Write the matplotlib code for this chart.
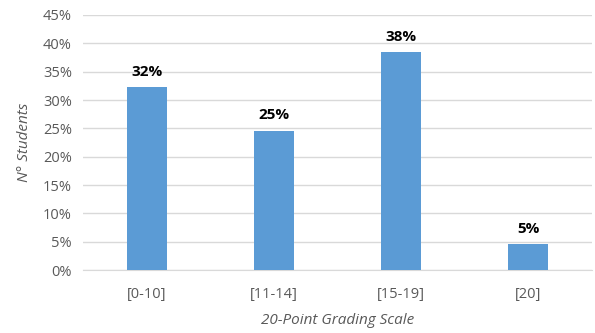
import matplotlib
matplotlib.use("Agg")
import matplotlib.pyplot as plt
from matplotlib.ticker import FuncFormatter

categories = ["[0-10]", "[11-14]", "[15-19]", "[20]"]
values = [32.3, 24.6, 38.4, 4.6]
yticks = [0, 5, 10, 15, 20, 25, 30, 35, 40, 45]

plt.rcParams['font.family'] = ['Open Sans', 'DejaVu Sans']

fig = plt.figure(figsize=(5.95, 3.33), dpi=100)
ax = fig.add_axes([0.1395, 0.189, 0.8555, 0.766])

x = range(len(categories))
bars = ax.bar(x, values, width=0.314, color="#5B9BD5", zorder=3)
for xi, v in zip(x, values):
    ax.annotate(f"{round(v):.0f}%", (xi, v), xytext=(0, 6), textcoords="offset points",
                ha="center", va="bottom", fontsize=11, fontweight="bold", color="black")

ax.set_xlim(-0.5, len(categories) - 0.5)
ax.set_ylim(0, 45)
ax.set_yticks(yticks)
ax.yaxis.set_major_formatter(FuncFormatter(lambda v, p: f"{v:.0f}%"))
ax.set_xticks(list(x))
ax.set_xticklabels(categories)
ax.grid(axis="y", color="#D9D9D9", linewidth=1, zorder=0)
for s in ["top", "right", "left"]:
    ax.spines[s].set_visible(False)
ax.spines["bottom"].set_color("#D9D9D9")
ax.tick_params(axis="both", length=0, labelsize=10.5, colors="#595959")
ax.tick_params(axis="x", pad=12)
ax.tick_params(axis="y", pad=8)
ax.set_ylabel("N° Students", fontsize=11, style="italic", color="#595959", labelpad=8)
ax.set_xlabel("20-Point Grading Scale", fontsize=11, style="italic", color="#595959", labelpad=8)

fig.savefig("out.png", dpi=100)
